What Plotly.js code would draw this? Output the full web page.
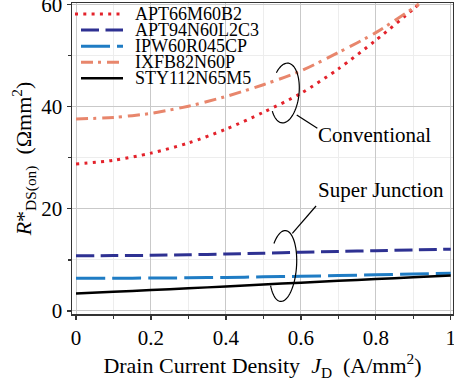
<!DOCTYPE html>
<html>
<head>
<meta charset="utf-8">
<script src="https://cdn.plot.ly/plotly-3.0.1.min.js"></script>
<style>html,body{margin:0;padding:0;background:#fff;}#chart{width:454px;height:385px;}</style>
</head>
<body>
<div id="chart"></div>
<script>
// ---- data ----
const seriesNames = ["APT66M60B2", "APT94N60L2C3", "IPW60R045CP", "IXFB82N60P", "STY112N65M5"];
const jFull = [0, 0.1, 0.2, 0.3, 0.4, 0.5, 0.6, 0.7, 0.8, 0.9, 1.0];
const jConv = [0, 0.1, 0.2, 0.3, 0.4, 0.5, 0.6, 0.7, 0.8, 0.9, 0.915];
const apt66m60b2 = [28.8, 29.5, 30.9, 32.9, 35.6, 38.9, 42.6, 47.4, 53.0, 59.1, 60.1];
const apt94n60l2c3 = [10.8, 10.85, 10.9, 11.0, 11.15, 11.3, 11.5, 11.65, 11.8, 11.95, 12.1];
const ipw60r045cp = [6.4, 6.42, 6.45, 6.5, 6.58, 6.68, 6.8, 6.93, 7.08, 7.24, 7.4];
const ixfb82n60p = [37.6, 37.9, 38.7, 40.1, 42.0, 44.3, 47.0, 50.6, 54.5, 59.3, 60.1];
const sty112n65m5 = [3.4, 3.75, 4.1, 4.45, 4.8, 5.2, 5.55, 5.9, 6.25, 6.6, 6.95];
const xTicks = [0, 0.2, 0.4, 0.6, 0.8, 1];
const xTickText = ["0", "0.2", "0.4", "0.6", "0.8", "1"];
const yTicks = [0, 20, 40, 60];
const yTickText = ["0", "20", "40", "60"];

// ---- styles ----
const FONT = "'Liberation Serif', serif";
const styles = [
  {color: "#e3222b", width: 3, dash: "3px,5.3px"},
  {color: "#2e3192", width: 3, dash: "18px,6.5px"},
  {color: "#1f7cc4", width: 3, dash: "29px,7px"},
  {color: "#e8866c", width: 3, dash: "12px,5px,3px,6px"},
  {color: "#000000", width: 2.5, dash: "solid"}
];
const xs = [jConv, jFull, jFull, jConv, jFull];
const ys = [apt66m60b2, apt94n60l2c3, ipw60r045cp, ixfb82n60p, sty112n65m5];

const traces = seriesNames.map((n, i) => ({
  x: xs[i], y: ys[i], name: n, type: "scatter", mode: "lines",
  line: {color: styles[i].color, width: styles[i].width, dash: styles[i].dash, shape: "spline", smoothing: 0.8},
  showlegend: false, hoverinfo: "skip"
}));

// pixel -> data helpers for annotation geometry
const X0 = 76, XS = 374.7, Y0 = 311, YS = 5.108;
const dx = p => (p - X0) / XS;
const dy = p => (Y0 - p) / YS;
// pixel -> paper
const PL = 72, PW = 381, PB = 314, PH = 311;
const pxp = p => (p - PL) / PW;
const pyp = p => (PB - p) / PH;

function arcPath(cx, cy, rx, ry, tiltDeg, a0, a1, n) {
  const f = tiltDeg * Math.PI / 180;
  let d = "";
  for (let k = 0; k <= n; k++) {
    const t = (a0 + (a1 - a0) * k / n) * Math.PI / 180;
    const X = cx + rx * Math.cos(t) * Math.cos(f) - ry * Math.sin(t) * Math.sin(f);
    const Y = cy + rx * Math.cos(t) * Math.sin(f) + ry * Math.sin(t) * Math.cos(f);
    d += (k === 0 ? "M" : "L") + dx(X).toFixed(5) + "," + dy(Y).toFixed(4) + " ";
  }
  return d;
}

const shapes = [
  // legend background
  {type: "rect", xref: "paper", yref: "paper", x0: pxp(73), x1: pxp(254), y0: pyp(3.5), y1: pyp(91),
   fillcolor: "#ffffff", line: {width: 0}, layer: "between"},
  // Conventional ellipse + leader
  {type: "path", xref: "x", yref: "y", path: arcPath(285, 93, 14, 30, 6, -140, 140, 60),
   line: {color: "#000", width: 1.2}},
  {type: "line", xref: "x", yref: "y", x0: dx(296.7), y0: dy(115), x1: dx(317.3), y1: dy(128.3),
   line: {color: "#000", width: 1.2}},
  // Super Junction ellipse + leader
  {type: "path", xref: "x", yref: "y", path: arcPath(283, 266, 13.5, 35.5, 4, -142, 145, 60),
   line: {color: "#000", width: 1.2}},
  {type: "line", xref: "x", yref: "y", x0: dx(292.3), y0: dy(233.3), x1: dx(316), y1: dy(206),
   line: {color: "#000", width: 1.2}}
];

// manual legend
const legendRows = [14, 30, 46.3, 62.3, 78.3];
const annotations = [];
seriesNames.forEach((n, i) => {
  shapes.push({type: "line", xref: "paper", yref: "paper",
    x0: pxp(i === 0 ? 75 : 81), x1: pxp(123), y0: pyp(legendRows[i]), y1: pyp(legendRows[i]),
    line: {color: styles[i].color, width: styles[i].width, dash: styles[i].dash}});
  annotations.push({xref: "paper", yref: "paper", x: pxp(133), y: pyp(legendRows[i]),
    xanchor: "left", yanchor: "middle", showarrow: false, text: n,
    font: {family: FONT, size: 18, color: "#000"}});
});
annotations.push({xref: "x", yref: "y", x: dx(316), y: dy(135), xanchor: "left", yanchor: "middle",
  showarrow: false, text: "Conventional", font: {family: FONT, size: 21, color: "#000"}});
annotations.push({xref: "x", yref: "y", x: dx(316), y: dy(190), xanchor: "left", yanchor: "middle",
  showarrow: false, text: "Super Junction", font: {family: FONT, size: 21, color: "#000"}});

const layout = {
  width: 454, height: 385,
  margin: {l: 72, r: 1, t: 3, b: 71},
  paper_bgcolor: "#fff", plot_bgcolor: "#fff",
  font: {family: FONT, size: 20, color: "#000"},
  showlegend: false,
  xaxis: {
    range: [-0.0107, 1.006], tickvals: xTicks, ticktext: xTickText, ticklabeloverflow: "allow",
    showgrid: true, gridcolor: "#c9c9c9", gridwidth: 1, zeroline: false,
    showline: true, linecolor: "#333", linewidth: 1.5, mirror: true,
    ticks: "outside", ticklen: 4, tickcolor: "#333", tickwidth: 1.3,
    tickfont: {family: FONT, size: 21, color: "#000"},
    minor: {dtick: 0.1, tick0: 0, showgrid: true, gridcolor: "#ededed", ticks: "outside", ticklen: 3, tickcolor: "#333"},
    title: {text: "Drain Current Density&nbsp;&nbsp;<i>J</i><sub>D</sub>&nbsp;&nbsp;(A/mm<sup>2</sup>)",
            font: {family: FONT, size: 22, color: "#000"}, standoff: 4},
    automargin: false
  },
  yaxis: {
    range: [-0.59, 60.3], tickvals: yTicks, ticktext: yTickText, ticklabeloverflow: "allow",
    showgrid: true, gridcolor: "#c9c9c9", gridwidth: 1, zeroline: false,
    showline: true, linecolor: "#333", linewidth: 1.5, mirror: true,
    ticks: "outside", ticklen: 4, tickcolor: "#333", tickwidth: 1.3,
    tickfont: {family: FONT, size: 21, color: "#000"},
    minor: {dtick: 10, tick0: 0, showgrid: true, gridcolor: "#ededed", ticks: "outside", ticklen: 3, tickcolor: "#333"},
    title: {text: "<i>R</i>*<sub>DS(on)</sub>&nbsp;&nbsp;(Ωmm<sup>2</sup>)",
            font: {family: FONT, size: 22, color: "#000"}, standoff: 3},
    automargin: false
  },
  shapes: shapes,
  annotations: annotations
};

Plotly.newPlot("chart", traces, layout, {staticPlot: true, displayModeBar: false});
</script>
</body>
</html>
